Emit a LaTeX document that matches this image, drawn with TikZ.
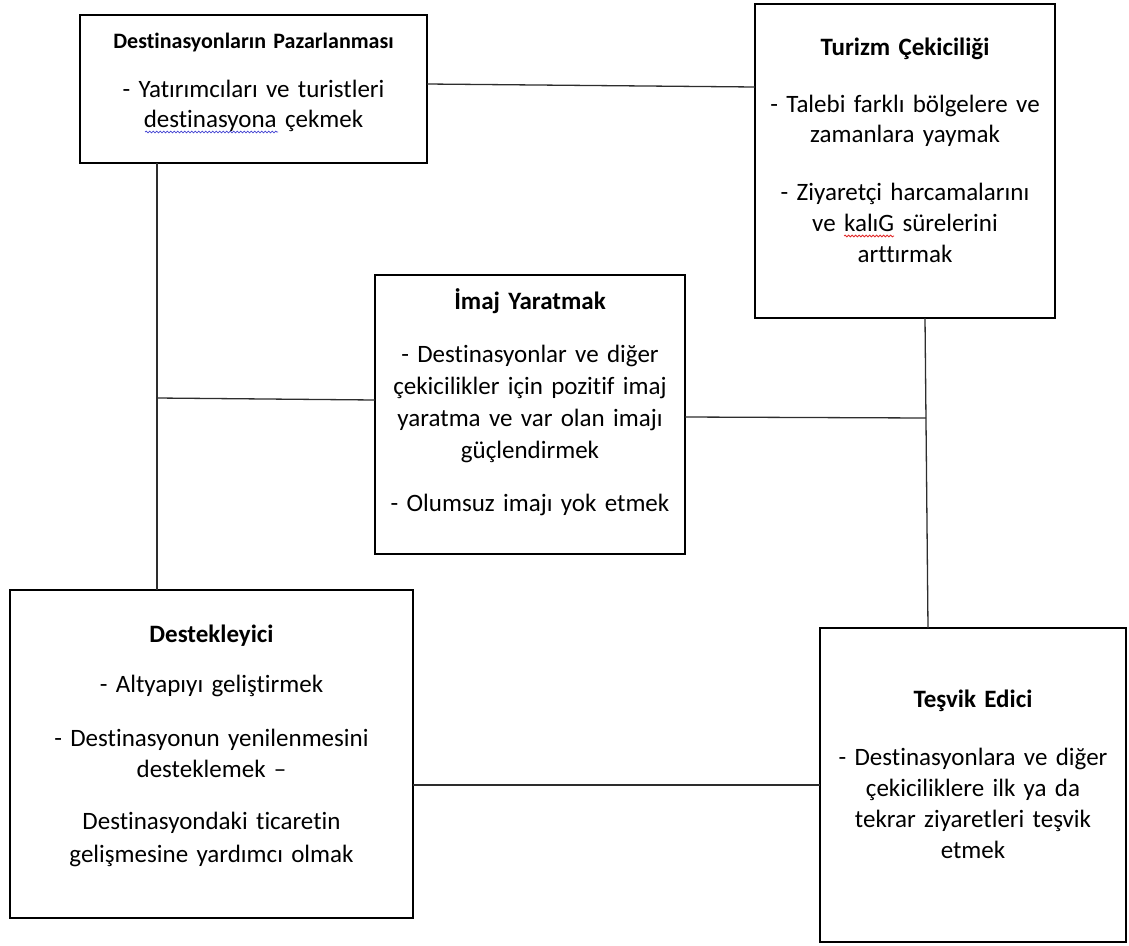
\documentclass[tikz,border=0pt]{standalone}
\usepackage{fontspec}
\setmainfont{Carlito}[Ligatures=NoCommon]
\usepackage{xcolor}
\usepackage{tikz}
\usetikzlibrary{decorations.pathmorphing}
\definecolor{wblue}{RGB}{70,70,210}
\definecolor{wred}{RGB}{225,40,40}
\definecolor{connc}{RGB}{45,45,45}
\begin{document}
\begin{tikzpicture}[x=1pt,y=-1pt,
  box/.style={draw=black, line width=2.6pt, inner sep=0pt, outer sep=0pt},
  conn/.style={draw=connc, line width=1.3pt},
  wavy/.style={line width=0.8pt, decorate, decoration={snake, amplitude=0.9pt, segment length=3.5pt}},
  ttl/.style={text width=380pt, align=center, anchor=base, inner sep=0pt, font=\fontsize{#1}{30}\selectfont\bfseries},
  ttl/.default=25,
  txt/.style={text width=380pt, align=center, anchor=base, inner sep=0pt, font=\fontsize{25}{#1}\selectfont},
  txt/.default=31]
\useasboundingbox (0,0) rectangle (1129,945);

% boxes
\node[box, minimum width=347pt, minimum height=148pt] (b1) at (253.5,89) {};
\node[box, minimum width=300pt, minimum height=314pt] (b2) at (905,161) {};
\node[box, minimum width=310pt, minimum height=279pt] (b3) at (530,414.5) {};
\node[box, minimum width=403pt, minimum height=328pt] (b4) at (211.5,754) {};
\node[box, minimum width=306pt, minimum height=314pt] (b5) at (973,785) {};

% texts
\node[ttl=22] (t1) at (253.5,48) {Destinasyonların Pazarlanması};
\node[txt=30] (p1) at (253.5,97) {- Yatırımcıları ve turistleri\\destinasyona çekmek};

\node[ttl] (t2) at (905,55) {Turizm Çekiciliği};
\node[txt=30] (p2a) at (905,112) {- Talebi farklı bölgelere ve\\zamanlara yaymak};
\node[txt=31] (p2b) at (905,200) {- Ziyaretçi harcamalarını\\ve kalıG sürelerini\\arttırmak};

\node[ttl] (t3) at (530,309) {İmaj Yaratmak};
\node[txt=32] (p3a) at (530,362) {- Destinasyonlar ve diğer\\çekicilikler için pozitif imaj\\yaratma ve var olan imajı\\güçlendirmek};
\node[txt] (p3b) at (530,511) {- Olumsuz imajı yok etmek};

\node[ttl] (t4) at (211.5,642) {Destekleyici};
\node[txt] (p4a) at (211.5,692) {- Altyapıyı geliştirmek};
\node[txt=31.5] (p4b) at (211.5,746) {- Destinasyonun yenilenmesini\\desteklemek –};
\node[txt=33] (p4c) at (211.5,829) {Destinasyondaki ticaretin\\gelişmesine yardımcı olmak};

\node[ttl] (t5) at (973,707) {Teşvik Edici};
\node[txt=31] (p5) at (973,765) {- Destinasyonlara ve diğer\\çekiciliklere ilk ya da\\tekrar ziyaretleri teşvik\\etmek};

% spell-check wavy underlines
\fontsize{25}{30}\selectfont
\pgfmathsetmacro\lineA{width("destinasyona çekmek")}
\pgfmathsetmacro\wordA{width("destinasyona")}
\pgfmathsetmacro\lineB{width("ve kalıG sürelerini")}
\pgfmathsetmacro\preB{width("ve kalıG")-width("kalıG")}
\pgfmathsetmacro\wordB{width("kalıG")}
\draw[wavy, wblue] ({253.5-\lineA/2},132) -- ({253.5-\lineA/2+\wordA},132);
\draw[wavy, wred] ({905-\lineB/2+\preB},236) -- ({905-\lineB/2+\preB+\wordB},236);

% connectors
\coordinate (j1) at (157,398);
\coordinate (j2) at (926,418);
\draw[conn] ([yshift=5pt]b1.east) -- ([yshift=74pt]b2.west);
\draw[conn] ([xshift=77pt]b1.south west) -- ([xshift=147pt]b4.north west);
\draw[conn] (j1) -- ([yshift=14.5pt]b3.west);
\draw[conn] ([xshift=170pt]b2.south west) -- ([xshift=108pt]b5.north west);
\draw[conn] ([yshift=-2.5pt]b3.east) -- (j2);
\draw[conn] ([yshift=-31pt]b4.east) -- (b5.west);
\end{tikzpicture}
\end{document}
